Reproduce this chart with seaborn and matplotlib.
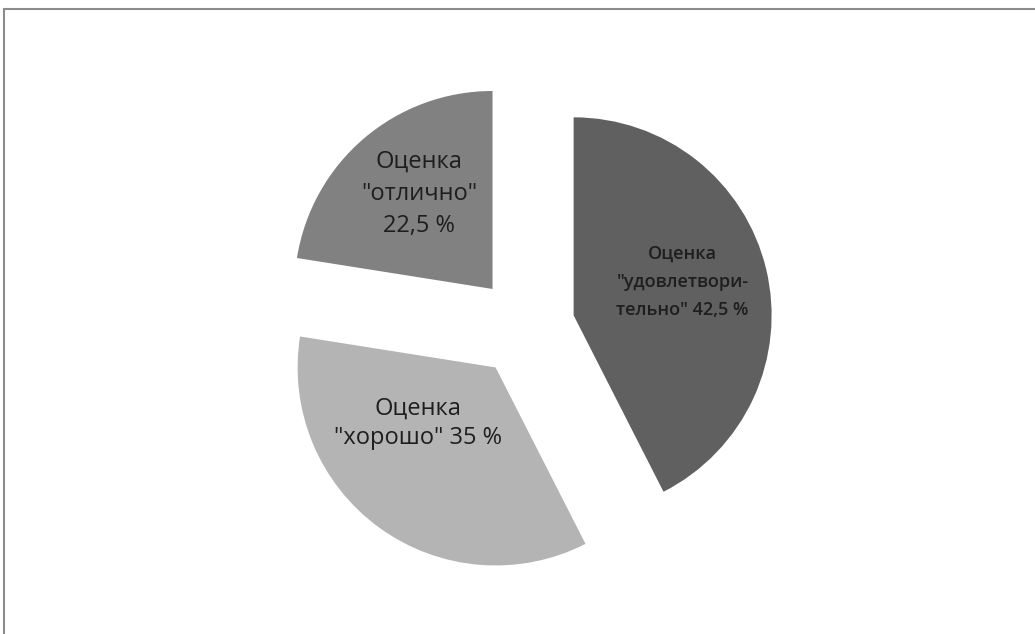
import numpy as np
import matplotlib
matplotlib.use("Agg")
import matplotlib.pyplot as plt
from matplotlib.patches import Rectangle
import seaborn as sns

# Grade distribution (clockwise from 12 o'clock)
grades = ['"удовлетворительно"', '"хорошо"', '"отлично"']
shares = [42.5, 35.0, 22.5]
label_texts = [
    'Оценка\n"удовлетвори-\nтельно" 42,5 %',
    'Оценка\n"хорошо" 35 %',
    'Оценка\n"отлично"\n22,5 %',
]
slice_colors = ["#606060", "#b4b4b4", "#818181"]

sns.set_theme(style="white")
plt.rcParams["font.family"] = ["Open Sans", "DejaVu Sans"]

W, H = 1035, 634
fig = plt.figure(figsize=(W / 100, H / 100), dpi=100)
fig.patch.set_facecolor("white")
ax = fig.add_axes([0, 0, 1, 1])

radius = 198
wedges, _ = ax.pie(
    shares,
    colors=slice_colors,
    startangle=90,
    counterclock=False,
    radius=radius,
    center=(525, 307),
    explode=[50, 50, 50],
    wedgeprops=dict(linewidth=0),
    frame=True,
)
ax.set_xlim(0, W)
ax.set_ylim(0, H)
ax.set_aspect("equal")
ax.axis("off")

# label anchor relative to each wedge's apex, in units of the radius
label_offsets = [(0.55, 0.17), (-0.39, -0.28), (-0.37, 0.48)]
label_sizes = [13, 17, 17]
label_weights = ["semibold", "normal", "normal"]
label_spacing = [1.75, 1.3, 1.45]
for w, txt, (dx, dy), fs, fw, ls in zip(wedges, label_texts, label_offsets,
                                         label_sizes, label_weights, label_spacing):
    cx, cy = w.center
    ax.text(cx + dx * radius, cy + dy * radius, txt, ha="center", va="center",
            fontsize=fs, fontweight=fw, color="#1e1e1e", linespacing=ls,
            multialignment="center")

# chart area border
fig.patches.append(Rectangle((4 / W, -0.1), 1.2, (H - 9) / H + 0.1,
                             transform=fig.transFigure, fill=False,
                             edgecolor="#8c8c8c", linewidth=1.5))

fig.savefig("out.png", dpi=100, facecolor="white")
